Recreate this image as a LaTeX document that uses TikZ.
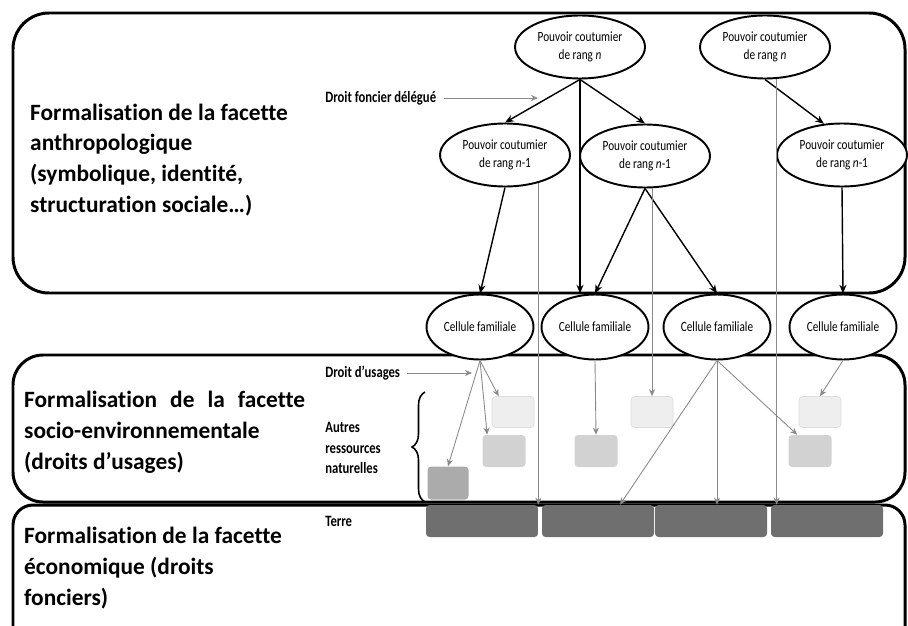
\documentclass[tikz,border=0pt]{standalone}
\usepackage{fontspec}
\usepackage{xcolor}
\usepackage{tikz}
\usetikzlibrary{shapes.geometric,arrows.meta,decorations.pathreplacing}
\setmainfont{Carlito}[Ligatures=CommonOff]
\newfontfamily\narrowfont[FakeStretch=0.8, Ligatures=CommonOff]{Carlito}
\definecolor{resclair}{HTML}{EEEEEE}
\definecolor{resclairbord}{HTML}{DCDCDC}
\definecolor{resmoyen}{HTML}{D2D2D2}
\definecolor{resfonce}{HTML}{ABABAB}
\definecolor{terrefonce}{HTML}{6F6F6F}
\definecolor{flechegris}{HTML}{8A8A8A}

\begin{document}
\begin{tikzpicture}[x=0.02cm, y=-0.02cm,
            facette/.style = {anchor = west, align = left, font = \bfseries\fontsize{13.3}{17.6}\selectfont},
            etiquette/.style = {anchor = west, align = left, inner sep = 0pt, font = \narrowfont\bfseries\fontsize{9}{11.9}\selectfont},
            pouvoir/.style = {ellipse, draw, line width = 1.1pt, fill = white, inner sep = 0pt, align = center,
                minimum width = 2.6cm, minimum height = 1.26cm, font = \narrowfont\fontsize{8}{10.4}\selectfont},
            cellule/.style = {pouvoir, minimum width = 2.14cm, minimum height = 1.3cm},
            ressource/.style = {rounded corners = 2pt, inner sep = 0pt, minimum width = 0.84cm, minimum height = 0.62cm},
            clair/.style = {ressource, fill = resclair, draw = resclairbord},
            moyen/.style = {ressource, fill = resmoyen, minimum width = 0.86cm, minimum height = 0.64cm},
            fonce/.style = {ressource, fill = resfonce, minimum width = 0.82cm, minimum height = 0.66cm},
            terre/.style = {ressource, fill = terrefonce, minimum width = 2.24cm, minimum height = 0.64cm},
            foncier/.style = {-{Stealth[length = 5pt, width = 4pt]}, line width = 0.8pt},
            usage/.style = {-{Stealth[length = 4pt, width = 3.5pt]}, draw = flechegris, line width = 0.5pt}]
            \useasboundingbox (0,0) rectangle (908,625);
            \clip (0,0) rectangle (908,625);
            % les trois facettes
            \draw[line width = 1.7pt, rounded corners = 0.72cm] (13,13) rectangle (905,293);
            \draw[line width = 1.7pt, rounded corners = 0.6cm] (13,355) rectangle (905,502);
            \draw[line width = 1.7pt, rounded corners = 0.4cm] (13,505) rectangle (905,690);
            \node[facette] (anthro) at (24,160) {Formalisation de la facette\\anthropologique\\(symbolique, identité,\\structuration sociale…)};
            \node[facette] (socio) at (18,432) {\makebox[5.62cm][s]{Formalisation de la facette}\\socio-environnementale\\(droits d’usages)};
            \node[facette] (eco) at (18,568) {Formalisation de la facette\\économique (droits\\fonciers)};
            % pouvoirs coutumiers
            \node[pouvoir] (n1) at (580,47) {Pouvoir coutumier\\de rang \textit{n}};
            \node[pouvoir] (n2) at (765,47) {Pouvoir coutumier\\de rang \textit{n}};
            \node[pouvoir] (a) at (505,155) {Pouvoir coutumier\\de rang \textit{n}-1};
            \node[pouvoir] (b) at (645,156) {Pouvoir coutumier\\de rang \textit{n}-1};
            \node[pouvoir] (c) at (842,155) {Pouvoir coutumier\\de rang \textit{n}-1};
            \node[cellule] (cel1) at (480,327) {Cellule familiale};
            \node[cellule] (cel2) at (595,327) {Cellule familiale};
            \node[cellule] (cel3) at (717,327) {Cellule familiale};
            \node[cellule] (cel4) at (843,327) {Cellule familiale};
            % ressources
            \node[clair] (l1) at (513,412) {};
            \node[clair] (l2) at (652,412) {};
            \node[clair] (l3) at (820,412) {};
            \node[moyen] (m1) at (504,451) {};
            \node[moyen] (m2) at (596,451) {};
            \node[moyen] (m3) at (810,451) {};
            \node[fonce] (d1) at (448,483) {};
            \node[terre] (t1) at (482,521) {};
            \node[terre] (t2) at (598,521) {};
            \node[terre] (t3) at (711,521) {};
            \node[terre] (t4) at (827,521) {};
            % etiquettes
            \node[etiquette] (dfd) at (325,98) {Droit foncier délégué};
            \coordinate (dfdbout) at (538,98);
            \node[etiquette] (du) at (325,373) {Droit d’usages};
            \coordinate (dubout) at (472,373);
            \node[etiquette] (autres) at (325,448) {Autres\\ressources\\naturelles};
            \node[etiquette] (terrelbl) at (325,521) {Terre};
            \coordinate (accoladehaut) at (425,392);
            \coordinate (accoladebas) at (425,502);
            \draw[line width = 0.9pt, decorate, decoration = {brace, mirror, amplitude = 0.26cm}] (accoladehaut) -- (accoladebas);
            % droits fonciers
            \draw[foncier] (n1.south) -- (a.north);
            \draw[foncier] (n1.south) -- (b.north);
            \draw[foncier] (n1.south) -- (n1.south |- cel2.north);
            \draw[foncier] (n2.south) -- (c.120);
            \draw[foncier] (a.south) -- (cel1.north);
            \draw[foncier] (b.south) -- (cel2.north);
            \draw[foncier] (b.south) -- (cel3.north);
            \draw[foncier] (c.south) -- (cel4.north);
            % droits d'usages et terre
            \draw[usage, shorten <= 4pt] (dfd) -- (dfdbout);
            \draw[usage, shorten <= 4pt] (du) -- (dubout);
            \draw[usage] (a.-40) -- (a.-40 |- t1.north);
            \draw[usage] (l2.north |- b.south) -- (l2.north);
            \draw[usage] (n2.-70) -- (n2.-70 |- t4.north);
            \draw[usage] (cel1.south) -- ([xshift = 0.14cm]l1.north west);
            \draw[usage] (cel1.south) -- ([xshift = 0.1cm]m1.north west);
            \draw[usage] (cel1.south) -- (d1.north);
            \draw[usage] (cel2.south) -- (m2.north);
            \draw[usage] (cel3.south) -- ([xshift = 0.44cm]t2.north);
            \draw[usage] (cel3.south) -- (cel3.south |- t3.north);
            \draw[usage] (cel3.south) -- ([xshift = 0.18cm]m3.north west);
            \draw[usage] (cel4.south) -- (l3.north);
\end{tikzpicture}
\end{document}
